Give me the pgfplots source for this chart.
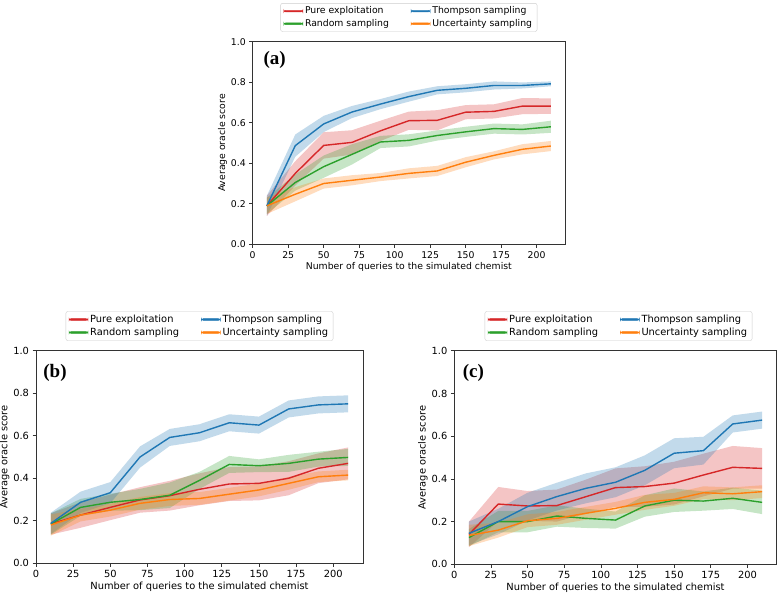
\documentclass[border=0pt]{standalone}
\usepackage{fontspec}
\setmainfont{DejaVu Sans}
\newfontfamily\tnr{Liberation Serif}
\usepackage{pgfplots}
\usepackage{pgfplotstable}
\pgfplotsset{compat=1.18}
\definecolor{cred}{HTML}{D62728}
\definecolor{cgreen}{HTML}{2CA02C}
\definecolor{cblue}{HTML}{1F77B4}
\definecolor{corange}{HTML}{FF7F0E}

\pgfplotstableread{
x   pe    rs    ts    us
10  0.190 0.190 0.190 0.190
30  0.350 0.305 0.487 0.247
50  0.488 0.383 0.594 0.300
70  0.503 0.444 0.653 0.316
90  0.560 0.505 0.692 0.332
110 0.610 0.513 0.729 0.350
130 0.612 0.537 0.760 0.362
150 0.652 0.555 0.770 0.405
170 0.656 0.571 0.784 0.439
190 0.682 0.567 0.784 0.469
210 0.682 0.580 0.792 0.485
}\tabA

\pgfplotstableread{
x   pe    rs    ts    us
10  0.185 0.185 0.188 0.180
30  0.227 0.263 0.287 0.227
50  0.263 0.287 0.332 0.250
70  0.298 0.300 0.500 0.282
90  0.318 0.320 0.592 0.300
110 0.348 0.390 0.614 0.305
130 0.373 0.465 0.661 0.325
150 0.376 0.459 0.650 0.345
170 0.400 0.470 0.726 0.376
190 0.447 0.490 0.745 0.407
210 0.470 0.498 0.750 0.415
}\tabB

\pgfplotstableread{
x   pe    rs    ts    us
10  0.140 0.125 0.145 0.135
30  0.282 0.200 0.200 0.160
50  0.273 0.200 0.270 0.204
70  0.275 0.226 0.317 0.215
90  0.317 0.215 0.356 0.239
110 0.359 0.207 0.384 0.262
130 0.364 0.273 0.440 0.290
150 0.380 0.300 0.520 0.304
170 0.418 0.296 0.532 0.335
190 0.454 0.309 0.657 0.330
210 0.449 0.290 0.675 0.340
}\tabC

\newcommand{\mline}[3]{%
  \addplot[#3, line width=1.4pt, forget plot] table[x=x, y=#2] {#1};
}
\pgfplotsset{band/.style={fill=#1, fill opacity=0.27, draw=none, forget plot}}

\pgfplotsset{
  panel/.style={
    scale only axis,
    xmin=0, xmax=220, ymin=0, ymax=1,
    xtick={0,25,...,200}, ytick={0,0.2,...,1.0},
    yticklabel style={/pgf/number format/.cd, fixed, fixed zerofill, precision=1},
    /pgf/number format/assume math mode=true,
    tick align=outside, tick pos=left,
    major tick length=3.5pt,
    every tick/.append style={black!80, line width=0.7pt},
    axis line style={black!80, line width=0.8pt},
    xlabel={Number of queries to the simulated chemist},
    ylabel={Average oracle score},
    xlabel style={yshift=3pt},
    ylabel style={yshift=-3pt},
    legend columns=2,
    legend cell align=left,
    legend image code/.code={\fill[#1] (0pt,-0.85pt) rectangle (19pt,0.85pt);},
    legend style={at={(0.5,1)}, anchor=south, yshift=10pt, draw=black!20, rounded corners=2pt,
      inner xsep=3pt, inner ysep=1.5pt,
      /tikz/every even column/.append style={column sep=20pt}},
  },
}
\tikzset{plab/.style={anchor=west, font=\tnr\bfseries\fontsize{19}{19}\selectfont, inner sep=0pt}}

\begin{document}
\begin{tikzpicture}
\path[use as bounding box] (0,0) rectangle (784pt,596pt);

% ---------- (a)
\begin{axis}[panel, at={(252.7pt,351.7pt)}, anchor=south west,
  width=312.3pt, height=202.6pt, font=\fontsize{9.3}{11}\selectfont,
  legend style={font=\fontsize{9.3}{11}\selectfont}]
\addlegendimage{color=cred}\addlegendentry{Pure exploitation}
\addlegendimage{color=cblue}\addlegendentry{Thompson sampling}
\addlegendimage{color=cgreen}\addlegendentry{Random sampling}
\addlegendimage{color=corange}\addlegendentry{Uncertainty sampling}
\addplot[band=cred] coordinates {(10,.240)(30,.410)(50,.553)(70,.563)(90,.610)(110,.655)(130,.662)(150,.687)(170,.691)(190,.722)(210,.720)(210,.644)(190,.642)(170,.621)(150,.617)(130,.562)(110,.565)(90,.510)(70,.443)(50,.423)(30,.290)(10,.140)};
\addplot[band=cgreen] coordinates {(10,.230)(30,.345)(50,.438)(70,.494)(90,.535)(110,.543)(130,.562)(150,.580)(170,.596)(190,.592)(210,.610)(210,.550)(190,.542)(170,.546)(150,.530)(130,.512)(110,.483)(90,.475)(70,.394)(50,.328)(30,.265)(10,.150)};
\addplot[band=cblue] coordinates {(10,.240)(30,.542)(50,.634)(70,.683)(90,.717)(110,.754)(130,.780)(150,.790)(170,.804)(190,.799)(210,.804)(210,.780)(190,.769)(170,.764)(150,.750)(130,.740)(110,.704)(90,.667)(70,.623)(50,.554)(30,.432)(10,.140)};
\addplot[band=corange] coordinates {(10,.230)(30,.282)(50,.325)(70,.341)(90,.352)(110,.375)(130,.387)(150,.430)(170,.459)(190,.494)(210,.510)(210,.460)(190,.444)(170,.419)(150,.380)(130,.337)(110,.325)(90,.312)(70,.291)(50,.275)(30,.212)(10,.150)};
\mline{\tabA}{pe}{cred}
\mline{\tabA}{rs}{cgreen}
\mline{\tabA}{ts}{cblue}
\mline{\tabA}{us}{corange}
\node[plab] at (rel axis cs:0.034,0.912) {(a)};
\end{axis}

% ---------- (b)
\begin{axis}[panel, at={(36pt,32.7pt)}, anchor=south west,
  width=327pt, height=212.6pt, font=\fontsize{9.85}{11.5}\selectfont,
  legend style={font=\fontsize{9.85}{11.5}\selectfont}]
\addlegendimage{color=cred}\addlegendentry{Pure exploitation}
\addlegendimage{color=cblue}\addlegendentry{Thompson sampling}
\addlegendimage{color=cgreen}\addlegendentry{Random sampling}
\addlegendimage{color=corange}\addlegendentry{Uncertainty sampling}
\addplot[band=cred] coordinates {(10,.235)(30,.287)(50,.323)(70,.358)(90,.388)(110,.423)(130,.453)(150,.456)(170,.480)(190,.517)(210,.545)(210,.395)(190,.377)(170,.320)(150,.296)(130,.293)(110,.273)(90,.248)(70,.238)(50,.203)(30,.167)(10,.135)};
\addplot[band=cgreen] coordinates {(10,.235)(30,.303)(50,.327)(70,.350)(90,.380)(110,.430)(130,.505)(150,.489)(170,.510)(190,.525)(210,.538)(210,.458)(190,.455)(170,.430)(150,.429)(130,.425)(110,.350)(90,.260)(70,.250)(50,.247)(30,.223)(10,.135)};
\addplot[band=cblue] coordinates {(10,.238)(30,.337)(50,.382)(70,.550)(90,.632)(110,.654)(130,.701)(150,.690)(170,.766)(190,.785)(210,.790)(210,.710)(190,.705)(170,.686)(150,.610)(130,.621)(110,.574)(90,.552)(70,.450)(50,.282)(30,.237)(10,.138)};
\addplot[band=corange] coordinates {(10,.230)(30,.257)(50,.280)(70,.312)(90,.330)(110,.335)(130,.355)(150,.375)(170,.406)(190,.432)(210,.440)(210,.390)(190,.382)(170,.346)(150,.315)(130,.295)(110,.275)(90,.270)(70,.252)(50,.220)(30,.197)(10,.130)};
\mline{\tabB}{pe}{cred}
\mline{\tabB}{rs}{cgreen}
\mline{\tabB}{ts}{cblue}
\mline{\tabB}{us}{corange}
\node[plab] at (rel axis cs:0.022,0.897) {(b)};
\end{axis}

% ---------- (c)
\begin{axis}[panel, at={(454.3pt,31.7pt)}, anchor=south west,
  width=322.4pt, height=213.6pt, font=\fontsize{9.85}{11.5}\selectfont,
  legend style={font=\fontsize{9.85}{11.5}\selectfont, xshift=3pt}]
\addlegendimage{color=cred}\addlegendentry{Pure exploitation}
\addlegendimage{color=cblue}\addlegendentry{Thompson sampling}
\addlegendimage{color=cgreen}\addlegendentry{Random sampling}
\addlegendimage{color=corange}\addlegendentry{Uncertainty sampling}
\addplot[band=cred] coordinates {(10,.200)(30,.362)(50,.343)(70,.350)(90,.397)(110,.449)(130,.459)(150,.480)(170,.518)(190,.554)(210,.544)(210,.354)(190,.354)(170,.318)(150,.280)(130,.269)(110,.269)(90,.237)(70,.200)(50,.203)(30,.202)(10,.080)};
\addplot[band=cgreen] coordinates {(10,.165)(30,.250)(50,.250)(70,.276)(90,.260)(110,.247)(130,.323)(150,.355)(170,.341)(190,.359)(210,.345)(210,.235)(190,.259)(170,.251)(150,.245)(130,.223)(110,.167)(90,.170)(70,.176)(50,.150)(30,.150)(10,.085)};
\addplot[band=cblue] coordinates {(10,.200)(30,.260)(50,.335)(70,.382)(90,.426)(110,.454)(130,.510)(150,.590)(170,.597)(190,.697)(210,.715)(210,.635)(190,.617)(170,.467)(150,.450)(130,.370)(110,.314)(90,.286)(70,.252)(50,.205)(30,.140)(10,.090)};
\addplot[band=corange] coordinates {(10,.185)(30,.195)(50,.234)(70,.245)(90,.269)(110,.292)(130,.325)(150,.334)(170,.365)(190,.360)(210,.370)(210,.310)(190,.300)(170,.305)(150,.274)(130,.255)(110,.232)(90,.209)(70,.185)(50,.174)(30,.125)(10,.085)};
\mline{\tabC}{pe}{cred}
\mline{\tabC}{rs}{cgreen}
\mline{\tabC}{ts}{cblue}
\mline{\tabC}{us}{corange}
\node[plab] at (rel axis cs:0.026,0.897) {(c)};
\end{axis}
\end{tikzpicture}
\end{document}
